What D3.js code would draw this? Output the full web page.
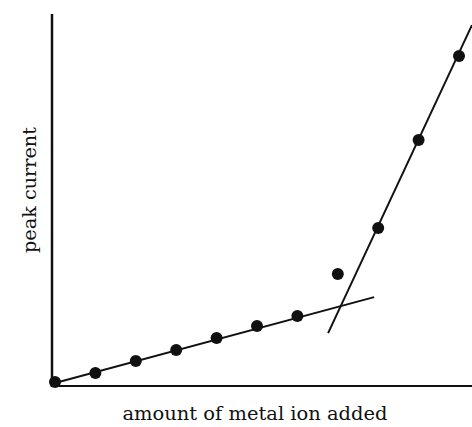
<!DOCTYPE html>
<html>
<head>
<meta charset="utf-8">
<script src="https://cdn.jsdelivr.net/npm/d3@7"></script>
<style>
  body { margin: 0; background: #fff; }
  text { font-family: "DejaVu Serif", "Liberation Serif", serif; fill: #111; }
</style>
</head>
<body>
<div id="chart"></div>
<script>
const amounts = [0, 1, 2, 3, 4, 5, 6, 7, 8, 9, 10];
const currents = [1.1, 3.5, 6.7, 9.7, 12.9, 16.1, 18.8, 30.1, 42.5, 66.1, 88.7];

// the two fitted straight lines (endpoints in data units)
const lineLow = [[0, 0.8], [7.9, 23.9]];
const lineHigh = [[6.76, 14.2], [10.32, 97]];

const xLabel = "amount of metal ion added";
const yLabel = "peak current";

const W = 472, H = 427;

const svg = d3.select("#chart").append("svg")
    .attr("width", W)
    .attr("height", H);

const x = d3.scaleLinear().domain([0, 10]).range([55, 459]);
const y = d3.scaleLinear().domain([0, 100]).range([386, 14]);

const axisLeft = 52, axisBottom = 386;

// axes (plain lines, no ticks)
svg.append("line")
    .attr("x1", axisLeft).attr("x2", axisLeft)
    .attr("y1", y(100)).attr("y2", axisBottom + 1)
    .attr("stroke", "#111").attr("stroke-width", 2.5);

svg.append("line")
    .attr("x1", axisLeft).attr("x2", W)
    .attr("y1", axisBottom).attr("y2", axisBottom)
    .attr("stroke", "#111").attr("stroke-width", 2);

// fit lines
const line = d3.line().x(d => x(d[0])).y(d => y(d[1]));
[lineLow, lineHigh].forEach(seg => {
    svg.append("path")
        .attr("d", line(seg))
        .attr("fill", "none")
        .attr("stroke", "#111")
        .attr("stroke-width", 2);
});

// data points
svg.selectAll(".dot")
    .data(amounts.map((a, i) => ({ a: a, c: currents[i] })))
    .enter()
    .append("circle")
    .attr("class", "dot")
    .attr("cx", d => x(d.a))
    .attr("cy", d => y(d.c))
    .attr("r", 6)
    .attr("fill", "#111");

// labels
svg.append("text")
    .attr("x", 255)
    .attr("y", 420)
    .attr("text-anchor", "middle")
    .attr("font-size", 19)
    .attr("textLength", 265)
    .attr("lengthAdjust", "spacingAndGlyphs")
    .text(xLabel);

svg.append("text")
    .attr("transform", "translate(36,190) rotate(-90)")
    .attr("text-anchor", "middle")
    .attr("font-size", 19)
    .attr("textLength", 126)
    .attr("lengthAdjust", "spacingAndGlyphs")
    .text(yLabel);
</script>
</body>
</html>
